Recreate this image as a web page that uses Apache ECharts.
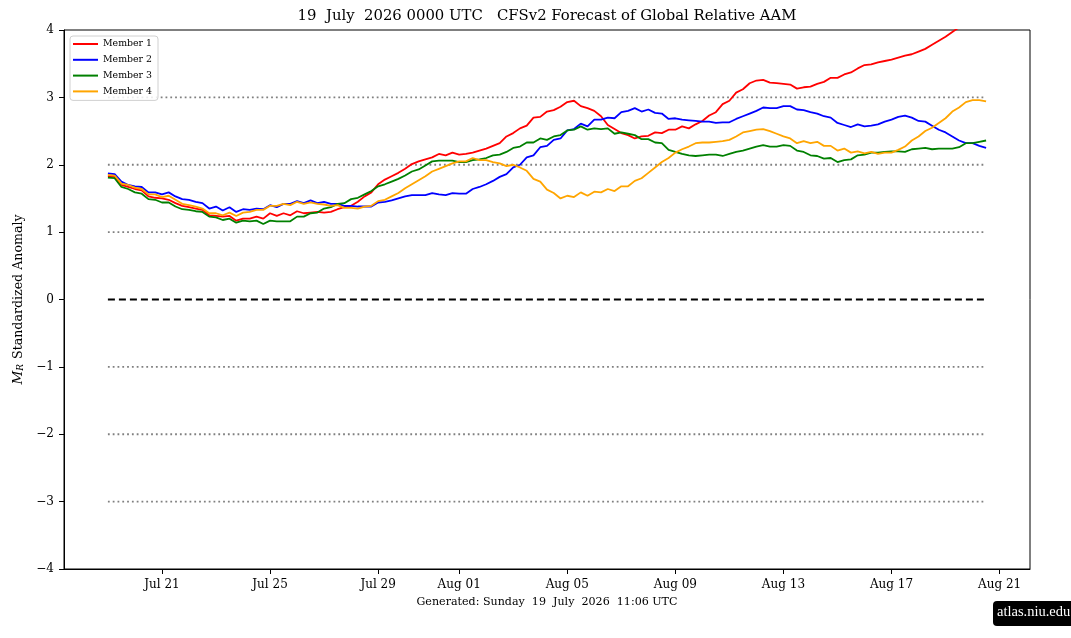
<!DOCTYPE html>
<html>
<head>
<meta charset="utf-8">
<script src="https://cdn.jsdelivr.net/npm/echarts@6/dist/echarts.min.js"></script>
<style>
html,body{margin:0;padding:0;background:#fff;}
#chart{width:1071px;height:638px;}
</style>
</head>
<body>
<div id="chart"></div>
<script>
// ---- data (6-hourly, starting 19 July 2026 00 UTC) ----
const stepDays = 0.25;
const member1 = [
1.83,1.82,1.70,1.67,1.64,1.62,1.53,1.51,1.50,1.48,1.43,1.39,1.37,1.35,1.33,1.25,1.24,1.23,1.24,1.17,1.20,1.20,1.23,1.20,1.28,1.24,1.28,1.25,1.31,1.28,1.29,1.30,1.29,1.30,
1.34,1.37,1.39,1.45,1.53,1.59,1.71,1.78,1.83,1.88,1.94,2.01,2.05,2.08,2.11,2.16,2.14,2.18,2.15,2.16,2.18,2.21,2.24,2.28,2.32,2.42,2.47,2.54,2.58,2.70,2.71,2.79,
2.81,2.86,2.93,2.95,2.87,2.84,2.80,2.72,2.59,2.53,2.47,2.44,2.39,2.42,2.43,2.48,2.47,2.52,2.52,2.57,2.54,2.60,2.65,2.73,2.78,2.90,2.95,3.07,3.12,3.21,3.25,3.26,3.22,
3.21,3.20,3.19,3.13,3.15,3.16,3.20,3.23,3.29,3.29,3.34,3.37,3.43,3.48,3.49,3.52,3.54,3.56,3.59,3.62,3.64,3.68,3.72,3.78,3.84,3.90,3.97,4.04,4.10,4.16,4.22,4.28
];
const member2 = [
1.87,1.86,1.75,1.70,1.68,1.67,1.59,1.59,1.56,1.59,1.53,1.49,1.48,1.45,1.43,1.35,1.38,1.32,1.37,1.30,1.34,1.33,1.35,1.34,1.40,1.37,1.42,1.42,1.46,1.43,1.47,1.43,1.45,1.42,
1.42,1.39,1.39,1.38,1.38,1.38,1.44,1.45,1.47,1.50,1.53,1.55,1.55,1.55,1.58,1.56,1.55,1.58,1.57,1.57,1.64,1.67,1.71,1.76,1.82,1.86,1.96,2.00,2.11,2.14,2.26,2.28,
2.37,2.39,2.51,2.53,2.61,2.57,2.67,2.67,2.70,2.69,2.78,2.80,2.84,2.79,2.82,2.77,2.76,2.68,2.69,2.67,2.66,2.65,2.64,2.64,2.62,2.63,2.63,2.68,2.72,2.76,2.80,2.85,2.84,
2.84,2.87,2.87,2.82,2.81,2.78,2.76,2.72,2.70,2.62,2.59,2.56,2.60,2.57,2.58,2.60,2.64,2.67,2.71,2.73,2.70,2.65,2.64,2.58,2.52,2.48,2.42,2.36,2.32,2.32,2.28,2.25
];
const member3 = [
1.81,1.80,1.67,1.64,1.59,1.57,1.49,1.48,1.44,1.44,1.38,1.34,1.33,1.31,1.30,1.23,1.22,1.18,1.20,1.14,1.17,1.16,1.17,1.12,1.17,1.16,1.16,1.16,1.23,1.23,1.28,1.29,1.35,1.37,
1.42,1.43,1.49,1.51,1.56,1.61,1.68,1.71,1.75,1.79,1.84,1.90,1.93,1.99,2.05,2.06,2.06,2.06,2.04,2.04,2.07,2.08,2.10,2.14,2.15,2.19,2.25,2.27,2.33,2.33,2.39,2.37,
2.42,2.44,2.51,2.52,2.57,2.52,2.54,2.53,2.54,2.46,2.48,2.46,2.44,2.38,2.38,2.33,2.32,2.22,2.19,2.16,2.14,2.13,2.14,2.15,2.15,2.13,2.16,2.19,2.21,2.24,2.27,2.29,2.27,
2.27,2.29,2.28,2.21,2.19,2.14,2.13,2.09,2.10,2.04,2.07,2.08,2.14,2.15,2.18,2.18,2.19,2.20,2.20,2.19,2.23,2.24,2.25,2.23,2.24,2.24,2.24,2.26,2.32,2.32,2.34,2.36
];
const member4 = [
1.85,1.84,1.72,1.70,1.66,1.64,1.56,1.56,1.52,1.54,1.48,1.42,1.40,1.38,1.35,1.28,1.28,1.25,1.29,1.24,1.29,1.30,1.33,1.33,1.39,1.39,1.42,1.40,1.45,1.42,1.44,1.42,1.41,1.39,
1.40,1.36,1.36,1.35,1.38,1.39,1.46,1.48,1.53,1.58,1.65,1.71,1.77,1.83,1.90,1.94,1.98,2.02,2.05,2.05,2.10,2.07,2.07,2.04,2.02,1.98,2.00,1.96,1.91,1.79,1.75,1.63,
1.58,1.50,1.54,1.52,1.59,1.54,1.60,1.59,1.64,1.61,1.68,1.68,1.76,1.80,1.88,1.96,2.04,2.10,2.18,2.23,2.27,2.32,2.33,2.33,2.34,2.35,2.37,2.42,2.48,2.50,2.52,2.53,2.50,
2.46,2.42,2.39,2.32,2.35,2.32,2.34,2.28,2.28,2.21,2.24,2.18,2.20,2.17,2.19,2.16,2.18,2.18,2.22,2.27,2.36,2.42,2.50,2.55,2.62,2.69,2.79,2.85,2.93,2.96,2.96,2.94
];
const memberNames = ['Member 1','Member 2','Member 3','Member 4'];
const memberColors = ['#ff0000','#0000ff','#008000','#ffa500'];
const tickDays = [2,6,10,13,17,21,25,29,33];
const tickLabels = ['Jul 21','Jul 25','Jul 29','Aug 01','Aug 05','Aug 09','Aug 13','Aug 17','Aug 21'];
const refLevels = [-3,-2,-1,1,2,3];
const zeroLevel = 0;
const titleText = '19  July  2026 0000 UTC   CFSv2 Forecast of Global Relative AAM';
const footerText = 'Generated: Sunday  19  July  2026  11:06 UTC';
const badgeText = 'atlas.niu.edu';

// ---- chart ----
const FONT = 'DejaVu Serif';
const allMembers = [member1, member2, member3, member4];
const nPts = member1.length;
const xFirst = 0, xLast = (nPts - 1) * stepDays;
const toXY = arr => arr.map((v, i) => [i * stepDays, v]);

const series = [];
refLevels.forEach(lv => {
  series.push({
    type: 'line', silent: true, symbol: 'none', animation: false,
    data: [[xFirst, lv], [xLast, lv]],
    lineStyle: { color: '#808080', width: 1.8, type: [1.8, 3] },
    z: 1
  });
});
series.push({
  type: 'line', silent: true, symbol: 'none', animation: false,
  data: [[xFirst, zeroLevel], [xLast, zeroLevel]],
  lineStyle: { color: '#000', width: 2, type: [7, 4] },
  z: 1
});
allMembers.forEach((arr, k) => {
  series.push({
    name: memberNames[k], type: 'line', symbol: 'none', showSymbol: false,
    animation: false, clip: true,
    data: toXY(arr),
    lineStyle: { color: memberColors[k], width: 1.8 },
    itemStyle: { color: memberColors[k] },
    z: 3 + k
  });
});

const GRID_L = 64, GRID_R = 41;
const plotCenterX = GRID_L + (1071 - GRID_L - GRID_R) / 2;

const chart = echarts.init(document.getElementById('chart'), null, { renderer: 'canvas' });
chart.setOption({
  backgroundColor: '#fff',
  animation: false,
  legend: {
    data: memberNames, orient: 'vertical', left: 70, top: 36,
    icon: 'rect', itemWidth: 25, itemHeight: 2, itemGap: 3.8,
    padding: [2, 6, 3, 3],
    borderColor: '#d0d0d0', borderWidth: 1, borderRadius: 3,
    backgroundColor: 'rgba(255,255,255,0.85)',
    textStyle: { fontFamily: FONT, fontSize: 9.4, color: '#000', lineHeight: 12 }
  },
  grid: {
    left: GRID_L, right: GRID_R, top: 30, bottom: 69,
    show: true, borderColor: '#000', borderWidth: 1, containLabel: false
  },
  xAxis: {
    type: 'value', min: -1.625, max: 34.125,
    axisLine: { onZero: false, lineStyle: { color: '#000', width: 1 } },
    axisTick: { show: true, length: 5, customValues: tickDays, lineStyle: { color: '#000' } },
    axisLabel: {
      customValues: tickDays, margin: 10,
      formatter: v => { const k = tickDays.indexOf(v); return k >= 0 ? tickLabels[k] : ''; },
      fontFamily: FONT, fontSize: 12, color: '#000'
    },
    splitLine: { show: false }
  },
  yAxis: {
    type: 'value', min: -4, max: 4, interval: 1,
    axisLine: { show: true, onZero: false, lineStyle: { color: '#000', width: 1 } },
    axisTick: { show: true, length: 5, lineStyle: { color: '#000' } },
    axisLabel: {
      margin: 10, fontFamily: FONT, fontSize: 12, color: '#000',
      formatter: v => (v < 0 ? '\u2212' + Math.abs(v) : String(v))
    },
    splitLine: { show: false },
    name: '{it|M}{sub|R} Standardized Anomaly',
    nameLocation: 'middle', nameRotate: 90, nameGap: 38,
    nameTextStyle: {
      fontFamily: FONT, fontSize: 12.6, color: '#000',
      rich: {
        it: { fontFamily: FONT, fontStyle: 'italic', fontSize: 13.5, color: '#000' },
        sub: { fontFamily: FONT, fontStyle: 'italic', fontSize: 9, color: '#000', padding: [5, 1, 0, 0] }
      }
    }
  },
  graphic: [
    {
      type: 'text', x: plotCenterX, y: 9,
      style: { text: titleText, font: '14.85px "DejaVu Serif"', fill: '#000', align: 'center', verticalAlign: 'top' }
    },
    {
      type: 'text', x: plotCenterX, y: 597,
      style: { text: footerText, font: '11.1px "DejaVu Serif"', fill: '#000', align: 'center', verticalAlign: 'top' }
    },
    {
      type: 'rect', left: 993, top: 601,
      shape: { width: 90, height: 25, r: 4 },
      style: { fill: '#000' }
    },
    {
      type: 'text', left: 997, top: 605,
      style: { text: badgeText, font: '14.5px "Liberation Serif"', fill: '#fff' }
    }
  ],
  series: series
});
</script>
</body>
</html>
